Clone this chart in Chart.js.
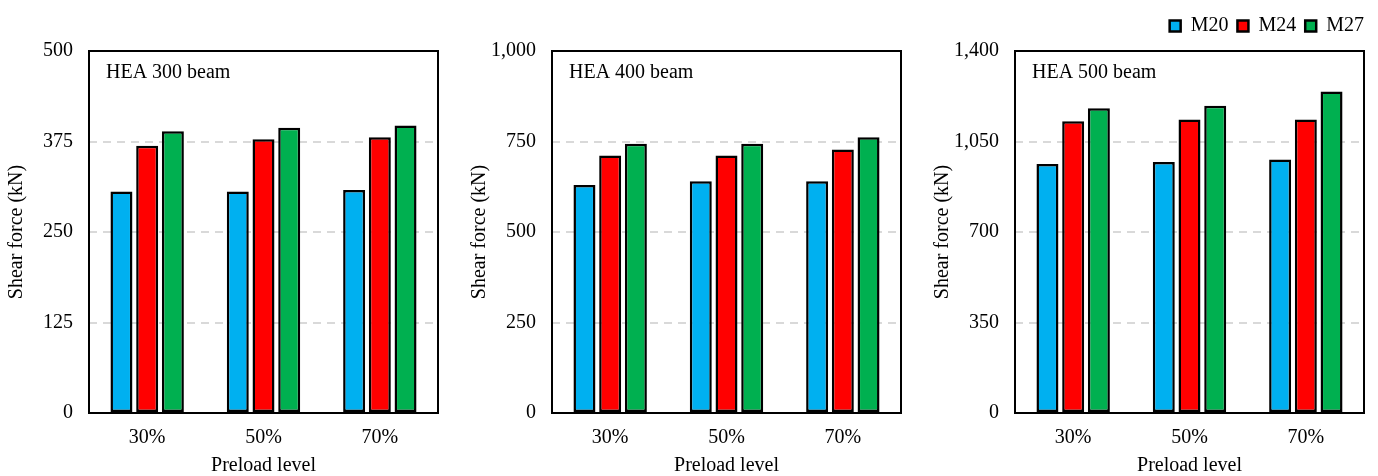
<!DOCTYPE html>
<html>
<head>
<meta charset="utf-8">
<script src="https://cdn.jsdelivr.net/npm/chart.js@4.4.1/dist/chart.umd.min.js"></script>
<style>
  body { margin: 0; background: #fff; }
  #wrap { position: relative; width: 1378px; height: 476px; overflow: hidden; }
  canvas { position: absolute; top: 0; }
</style>
</head>
<body>
<div id="wrap">
  <canvas id="c300" width="460" height="476" style="left:0px"></canvas>
  <canvas id="c400" width="460" height="476" style="left:460px"></canvas>
  <canvas id="c500" width="460" height="476" style="left:918px"></canvas>
</div>
<script>
const categories = ['30%', '50%', '70%'];
const seriesNames = ['M20', 'M24', 'M27'];
const seriesColors = ['#00B0F0', '#FF0000', '#00B050'];

// HEA 300 beam
const hea300M20 = [306, 306, 308];
const hea300M24 = [369, 378, 381];
const hea300M27 = [389, 394, 397];
const ticks300 = [0, 125, 250, 375, 500];

// HEA 400 beam
const hea400M20 = [630, 640, 640];
const hea400M24 = [711, 711, 728];
const hea400M27 = [744, 744, 762];
const ticks400 = [0, 250, 500, 750, 1000];

// HEA 500 beam
const hea500M20 = [963, 971, 980];
const hea500M24 = [1128, 1135, 1135];
const hea500M27 = [1179, 1188, 1243];
const ticks500 = [0, 350, 700, 1050, 1400];

const FONT = "'Liberation Serif', 'Times New Roman', serif";
Chart.defaults.font.family = FONT;
Chart.defaults.color = '#000';

// frame around the plot area + beam label in the corner
const framePlugin = {
  id: 'frame',
  afterDatasetsDraw(chart, args, opts) {
    const {ctx, chartArea: a} = chart;
    ctx.save();
    ctx.strokeStyle = '#000';
    ctx.lineWidth = 2;
    ctx.strokeRect(a.left, a.top, a.right - a.left, a.bottom - a.top);
    ctx.font = '20px ' + FONT;
    ctx.fillStyle = '#000';
    ctx.textBaseline = 'middle';
    ctx.fillText(opts.label, a.left + 17, a.top + 22);
    ctx.restore();
  }
};

// nudge the legend up/right so it sits in the corner like the original
const legendShift = {
  id: 'legendShift',
  afterLayout(chart) {
    const lg = chart.legend;
    if (!lg || !lg.options.display) return;
    lg.top -= 5; lg.bottom -= 5;
    lg.left += 9; lg.right += 9;
  }
};

function createChart(id, label, values, tickList, padLeft, padRight, showLegend) {
  const datasets = seriesNames.map((name, i) => ({
    label: name,
    data: values[i],
    backgroundColor: seriesColors[i],
    borderColor: '#000',
    borderWidth: 2.5,
    borderSkipped: false,
    categoryPercentage: 0.663,
    barPercentage: 0.855
  }));

  new Chart(document.getElementById(id), {
    type: 'bar',
    data: { labels: categories, datasets: datasets },
    plugins: [framePlugin, legendShift],
    options: {
      responsive: false,
      animation: false,
      layout: { padding: { left: padLeft, right: padRight, top: showLegend ? 12 : 51, bottom: 0 } },
      plugins: {
        frame: { label: label },
        tooltip: { enabled: false },
        legend: showLegend ? {
          display: true,
          position: 'top',
          align: 'end',
          labels: {
            boxWidth: 11,
            boxHeight: 11,
            padding: 9,
            font: { size: 20, family: FONT },
            color: '#000'
          }
        } : { display: false }
      },
      scales: {
        x: {
          grid: { display: false, drawTicks: false },
          border: { display: false },
          ticks: { padding: 13, font: { size: 20 } },
          title: { display: true, text: 'Preload level', font: { size: 20, lineHeight: 1 }, padding: { top: 0, bottom: 0 } },
          afterFit(scale) { scale.height = 63; }
        },
        y: {
          min: tickList[0],
          max: tickList[tickList.length - 1],
          afterBuildTicks(scale) { scale.ticks = tickList.map(v => ({ value: v })); },
          grid: {
            drawTicks: false,
            color: (c) => (c.tick && c.tick.value > tickList[0] && c.tick.value < tickList[tickList.length - 1]) ? '#D9D9D9' : 'rgba(0,0,0,0)',
            lineWidth: 2
          },
          border: { display: false, dash: [8, 6] },
          ticks: {
            padding: 16,
            font: { size: 20 },
            callback: (v) => Number(v).toLocaleString('en-US')
          },
          title: { display: true, text: 'Shear force (kN)', font: { size: 20, lineHeight: 1 }, padding: { top: 7, bottom: 0 } },
          afterFit(scale) { scale.width = 89; }
        }
      }
    }
  });
}

createChart('c300', 'HEA 300 beam', [hea300M20, hea300M24, hea300M27], ticks300, 0, 22, false);
createChart('c400', 'HEA 400 beam', [hea400M20, hea400M24, hea400M27], ticks400, 3, 19, false);
createChart('c500', 'HEA 500 beam', [hea500M20, hea500M24, hea500M27], ticks500, 8, 14, true);
</script>
</body>
</html>
